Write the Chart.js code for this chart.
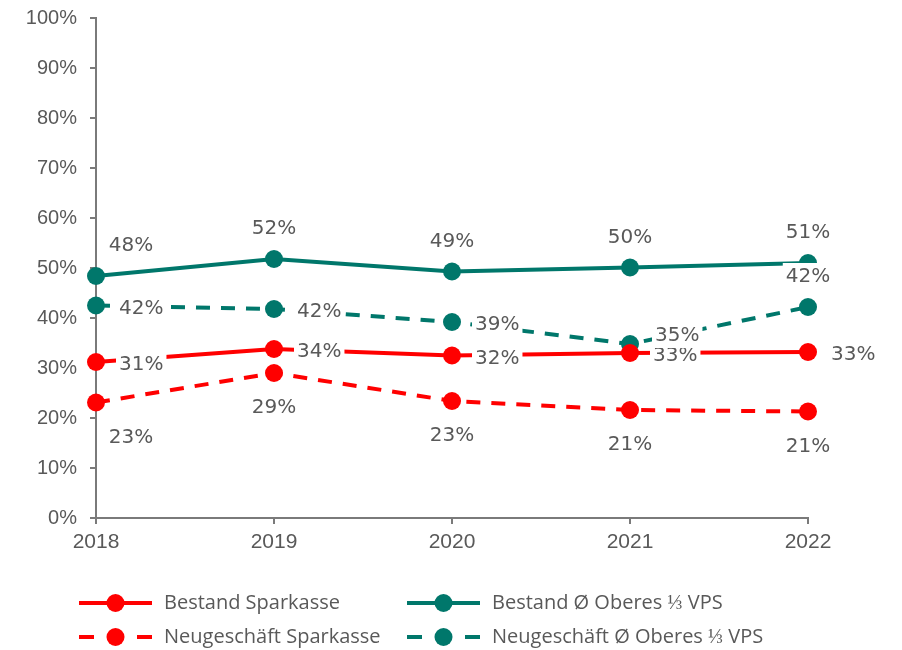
<!DOCTYPE html>
<html>
<head>
<meta charset="utf-8">
<script src="https://cdn.jsdelivr.net/npm/chart.js@4"></script>
<style>
  body { margin: 0; background: #fff; }
  #wrap { width: 902px; height: 650px; }
</style>
</head>
<body>
<div id="wrap"><canvas id="chart1" width="902" height="650"></canvas></div>
<script>
const years = ['2018', '2019', '2020', '2021', '2022'];
const yTicks = [0, 10, 20, 30, 40, 50, 60, 70, 80, 90, 100];

const bestandSpk = [31.2, 33.8, 32.5, 33.0, 33.2];
const neuSpk = [23.1, 29.0, 23.4, 21.6, 21.3];
const bestandVps = [48.4, 51.8, 49.3, 50.1, 51.0];
const neuVps = [42.5, 41.8, 39.2, 34.8, 42.2];

// shown values (rounded, as printed in the picture)
const bestandSpkLbl = ['31%', '34%', '32%', '33%', '33%'];
const neuSpkLbl = ['23%', '29%', '23%', '21%', '21%'];
const bestandVpsLbl = ['48%', '52%', '49%', '50%', '51%'];
const neuVpsLbl = ['42%', '42%', '39%', '35%', '42%'];

const RED = '#ff0000';
const TEAL = '#00776b';
const GREY = '#595959';

const cht1 = document.getElementById('chart1');

// value labels with white box behind them
const labelPlugin = {
  id: 'valueLabels',
  afterDatasetsDraw(chart) {
    const ctx = chart.ctx;
    ctx.save();
    ctx.font = '20px "DejaVu Sans"';
    ctx.textBaseline = 'middle';
    chart.data.datasets.forEach((ds, i) => {
      const meta = chart.getDatasetMeta(i);
      meta.data.forEach((pt, j) => {
        const txt = ds.labels[j];
        const pos = ds.labelPos[j];
        const w = ctx.measureText(txt).width;
        let x = pt.x, y = pt.y;
        if (pos === 'above') { y -= 31; }
        else if (pos === 'below') { y += 34; }
        else if (pos === 'right') { x += 23 + w / 2; y += 2; }
        else if (pos === 'upright') { x += 25 + w / 2; y -= 9; }
        if (j === 0 && (pos === 'above' || pos === 'below')) x += 35;
        ctx.fillStyle = '#fff';
        ctx.fillRect(x - w / 2 - 3, y - 13, w + 6, 26);
        ctx.fillStyle = GREY;
        ctx.textAlign = 'center';
        ctx.fillText(txt, x, y + 1);
      });
    });
    ctx.restore();
  }
};

// legend in two columns under the chart
const legendPlugin = {
  id: 'twoColLegend',
  afterDraw(chart) {
    const ctx = chart.ctx;
    const items = [
      { ds: 0, x: 79, y: 603 },
      { ds: 2, x: 407, y: 603 },
      { ds: 1, x: 79, y: 637 },
      { ds: 3, x: 407, y: 637 }
    ];
    ctx.save();
    items.forEach(it => {
      const ds = chart.data.datasets[it.ds];
      ctx.strokeStyle = ds.borderColor;
      ctx.fillStyle = ds.borderColor;
      ctx.lineWidth = 4;
      ctx.lineCap = 'butt';
      ctx.beginPath();
      if (ds.borderDash) {
        ctx.moveTo(it.x, it.y); ctx.lineTo(it.x + 15, it.y);
        ctx.moveTo(it.x + 58, it.y); ctx.lineTo(it.x + 73, it.y);
      } else {
        ctx.moveTo(it.x, it.y); ctx.lineTo(it.x + 73, it.y);
      }
      ctx.stroke();
      ctx.beginPath();
      ctx.arc(it.x + 36.5, it.y, 9, 0, Math.PI * 2);
      ctx.fill();
      ctx.fillStyle = GREY;
      ctx.font = '20px "Open Sans"';
      ctx.textBaseline = 'middle';
      ctx.textAlign = 'left';
      ctx.fillText(ds.label, it.x + 85, it.y);
    });
    ctx.restore();
  }
};

function line(label, data, labels, labelPos, color, dashed) {
  return {
    label: label,
    data: data,
    labels: labels,
    labelPos: labelPos,
    borderColor: color,
    backgroundColor: color,
    borderWidth: 4,
    borderDash: dashed ? [14, 11] : undefined,
    pointRadius: 9,
    pointHoverRadius: 9,
    pointBorderWidth: 0,
    tension: 0
  };
}

new Chart(cht1, {
  type: 'line',
  data: {
    labels: years,
    datasets: [
      line('Bestand Sparkasse', bestandSpk, bestandSpkLbl, ['right', 'right', 'right', 'right', 'right'], RED, false),
      line('Neugeschäft Sparkasse', neuSpk, neuSpkLbl, ['below', 'below', 'below', 'below', 'below'], RED, true),
      line('Bestand Ø Oberes ⅓ VPS', bestandVps, bestandVpsLbl, ['above', 'above', 'above', 'above', 'above'], TEAL, false),
      line('Neugeschäft Ø Oberes ⅓ VPS', neuVps, neuVpsLbl, ['right', 'right', 'right', 'upright', 'above'], TEAL, true)
    ]
  },
  options: {
    responsive: false,
    animation: false,
    layout: { padding: { top: 18, right: 94, left: 0, bottom: 0 } },
    plugins: { legend: { display: false }, tooltip: { enabled: false } },
    scales: {
      x: {
        offset: false,
        grid: { drawOnChartArea: false, drawTicks: true, tickLength: 6, color: '#7a7a7a', lineWidth: 2 },
        border: { color: '#7a7a7a', width: 2 },
        ticks: { color: GREY, font: { family: '"Liberation Sans"', size: 21 }, padding: 6, maxRotation: 0 },
        afterFit(s) { s.height = 132; s.paddingLeft = 0; s.paddingRight = 0; }
      },
      y: {
        min: 0,
        max: 100,
        afterBuildTicks(s) { s.ticks = yTicks.map(v => ({ value: v })); },
        grid: { drawOnChartArea: false, drawTicks: true, tickLength: 6, color: '#7a7a7a', lineWidth: 2 },
        border: { color: '#7a7a7a', width: 2 },
        ticks: { color: GREY, font: { family: '"Liberation Sans"', size: 20 }, padding: 13, callback: v => v + '%' },
        afterFit(s) { s.width = 96; s.paddingTop = 0; s.paddingBottom = 0; }
      }
    }
  },
  plugins: [labelPlugin, legendPlugin]
});
</script>
</body>
</html>
